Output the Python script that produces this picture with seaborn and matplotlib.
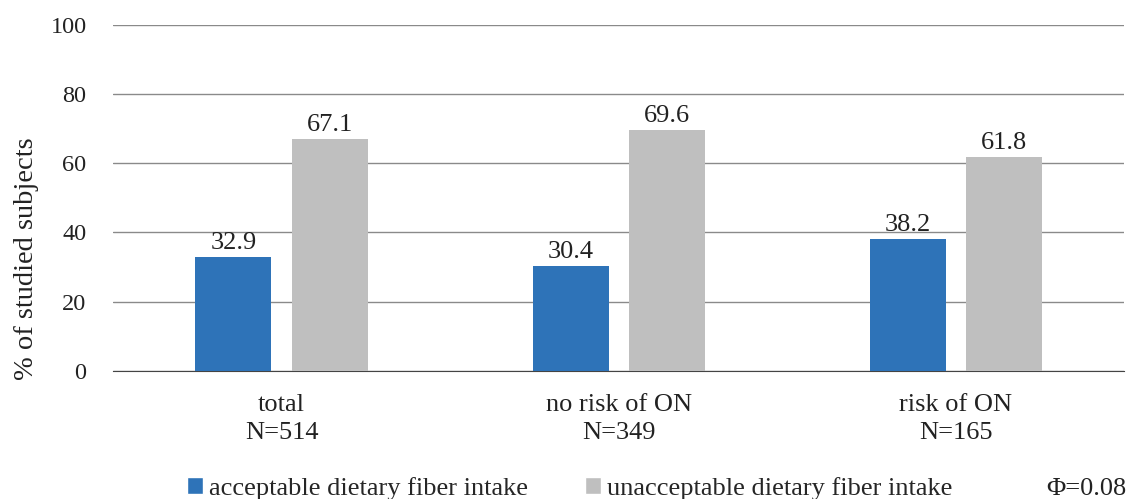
import numpy as np
import pandas as pd
import matplotlib
matplotlib.use("Agg")
import matplotlib.pyplot as plt
import seaborn as sns
from matplotlib.patches import Patch

# datos
grupos = ["total\nN=514", "no risk of ON\nN=349", "risk of ON\nN=165"]
aceptable = [32.9, 30.4, 38.2]
no_aceptable = [67.1, 69.6, 61.8]
series = ["acceptable dietary fiber intake", "unacceptable dietary fiber intake"]
colores = ["#2E73B8", "#BFBFBF"]

datos = pd.DataFrame({
    "grupo": grupos * 2,
    "valor": aceptable + no_aceptable,
    "serie": [series[0]] * 3 + [series[1]] * 3,
})

sns.set_style("white")
plt.rcParams["font.family"] = ["Liberation Serif", "DejaVu Serif"]

fig = plt.figure(figsize=(11.29, 4.99), dpi=100)
ax = fig.add_axes([0.100, 0.257, 0.896, 0.693])

sns.barplot(data=datos, x="grupo", y="valor", hue="serie", palette=colores,
            width=0.57, gap=0.21, saturation=1, linewidth=0,
            ax=ax, legend=False, zorder=3)

for cont in ax.containers:
    ax.bar_label(cont, fmt="%.1f", fontsize=19, padding=2, color="#222222")

ax.set_ylim(0, 100)
ax.set_xlim(-0.5, 2.5)
ax.set_yticks(range(0, 101, 20))
ax.yaxis.grid(True, color="#8a8a8a", linewidth=1)
ax.set_axisbelow(True)
for s in ["top", "right", "left"]:
    ax.spines[s].set_visible(False)
ax.spines["bottom"].set_color("#444444")
ax.tick_params(axis="y", length=0, labelsize=17.5, pad=19, labelcolor="#222222")
ax.set_xticks(range(len(grupos)))
ax.set_xticklabels(grupos, linespacing=1.35)
ax.tick_params(axis="x", length=0, labelsize=19, pad=17, labelcolor="#222222")
ax.set_xlabel("")
ax.set_ylabel("% of studied subjects", fontsize=20.5, color="#222222")
ax.yaxis.set_label_coords(-0.073, 0.325)

# leyenda
handles = [Patch(facecolor=c) for c in colores]
fig.legend(handles, series, loc="center left", bbox_to_anchor=(0.1656, 0.021), ncol=2,
           frameon=False, fontsize=19, handlelength=0.6, handleheight=0.6,
           handletextpad=0.23, columnspacing=2.16, borderpad=0, borderaxespad=0)
fig.text(0.998, 0.021, "Φ=0.08", fontsize=19, ha="right", va="center", color="#222222")

plt.savefig("out.png", dpi=100)
